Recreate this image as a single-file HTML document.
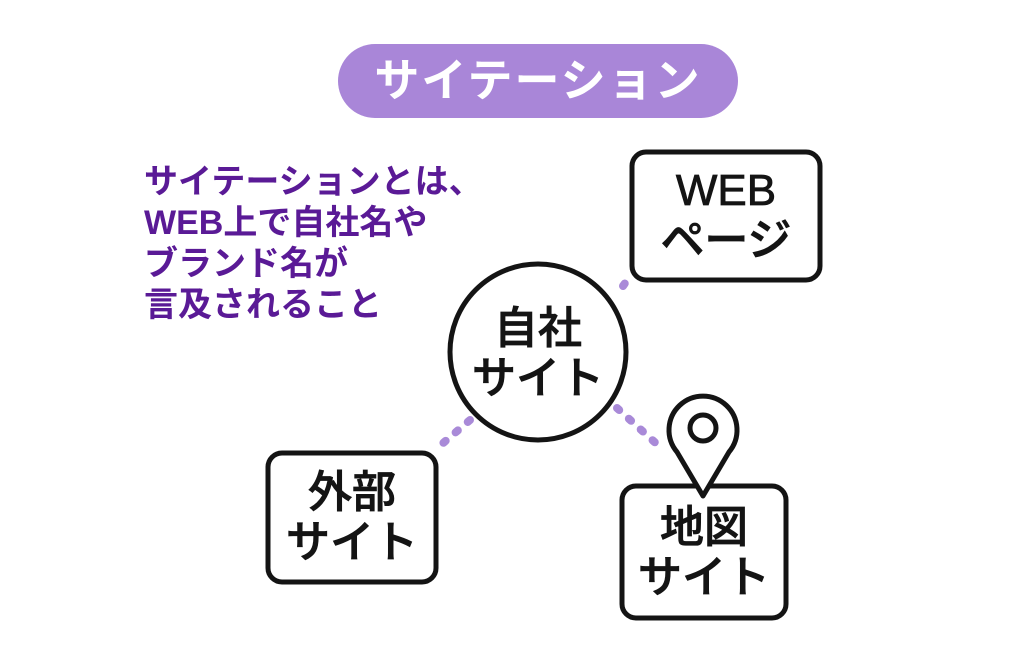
<!DOCTYPE html>
<html><head><meta charset="utf-8"><style>
html,body{margin:0;padding:0;background:#fff;}
body{width:1024px;height:663px;position:relative;overflow:hidden;font-family:"Liberation Sans","Noto Sans CJK JP",sans-serif;}
.pill{position:absolute;left:338px;top:44px;width:400px;height:74px;border-radius:37px;background:#a986d8;color:#fff;font-size:45px;font-weight:bold;text-align:center;line-height:74px;letter-spacing:2px;}
.desc{position:absolute;left:144px;top:162px;color:#5a1a96;font-size:34px;font-weight:bold;line-height:41px;}
.t{position:absolute;font-size:44px;font-weight:500;color:#141414;text-align:center;line-height:50px;-webkit-text-stroke:0.8px #141414;}
</style></head><body>
<div class="pill">サイテーション</div>
<div class="desc">サイテーションとは、<br>WEB上で自社名や<br>ブランド名が<br>言及されること</div>
<svg width="1024" height="663" style="position:absolute;left:0;top:0">
<g stroke="#a98ad8" stroke-width="8" stroke-linecap="round" stroke-dasharray="3 13" fill="none">
<line x1="623" y1="286" x2="628" y2="279"/>
<line x1="470" y1="420" x2="435" y2="450"/>
<line x1="617" y1="408" x2="660" y2="447"/>
</g>
<g stroke="#141414" stroke-width="5" fill="#fff">
<rect x="632" y="152" width="188" height="128" rx="14"/>
<circle cx="538" cy="352" r="88"/>
<rect x="268" y="453" width="168" height="129" rx="14"/>
<rect x="622" y="486" width="164" height="132" rx="14"/>
<path d="M703 496 L677 452 A34 34 0 1 1 729 452 Z" stroke-linejoin="round"/>
<circle cx="703" cy="428" r="13"/>
</g>
</svg>
<div class="t" style="left:632px;top:166px;width:188px;">WEB<br>ページ</div>
<div class="t" style="left:450px;top:304px;width:176px;">自社<br>サイト</div>
<div class="t" style="left:268px;top:468px;width:168px;">外部<br>サイト</div>
<div class="t" style="left:622px;top:503px;width:164px;">地図<br>サイト</div>
</body></html>
